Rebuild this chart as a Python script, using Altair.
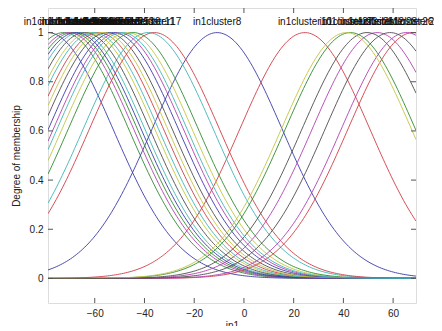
import altair as alt
import numpy as np
import pandas as pd

# Cluster centres (gaussmf), indexed by cluster number 1..28
cluster_ids = list(range(1, 29))
centers = [-78.8, -72.5, -58.5, -66.0, -50.5, -62.0, -55.0, -10.8, -69.0, 24.5,
           -38.5, 53.6, -47.0, -64.0, -52.5, -44.5, -36.0, -60.5, -70.5, -56.8,
           49.5, -67.5, 42.8, 68.0, -49.0, 65.3, 41.2, 58.8]
sigma = 26.2
x_min, x_max = -78.8, 69.2

x_ticks = [-60, -40, -20, 0, 20, 40, 60]
y_ticks = [0, 0.2, 0.4, 0.6, 0.8, 1.0]

matlab_colors = ["#3a3aa8", "#2f8a2f", "#d03c44", "#40b4b4", "#b040b0", "#c4c440", "#4c4c4c"]

names = [f"in1cluster{i}" for i in cluster_ids]
xs = np.linspace(x_min, x_max, 181)
rows = []
for cid, c, n in zip(cluster_ids, centers, names):
    for xv in xs:
        rows.append({"x": xv, "y": float(np.exp(-((xv - c) ** 2) / (2 * sigma ** 2))), "mf": n, "order": cid})
curves = pd.DataFrame(rows)
labels = pd.DataFrame({"x": centers, "y": [1.045] * len(centers), "mf": names})

W, H = 368, 295
xs_scale = alt.Scale(domain=[x_min, x_max], nice=False, zero=False)
ys_scale = alt.Scale(domain=[-0.1, 1.1], nice=False, zero=False)

color_scale = alt.Scale(domain=names, range=[matlab_colors[(i - 1) % 7] for i in cluster_ids])

lines = alt.Chart(curves).mark_line(strokeWidth=0.9, clip=True).encode(
    x=alt.X("x:Q", scale=xs_scale,
            axis=alt.Axis(values=x_ticks, title="in1", grid=False, domain=False, ticks=False,
                          labelPadding=5, labelFontSize=10, labelColor="#222",
                          titleFontSize=10, titleFontWeight="normal", titlePadding=2,
                          titleColor="#222", labelFont="Liberation Sans", titleFont="Liberation Sans")),
    y=alt.Y("y:Q", scale=ys_scale,
            axis=alt.Axis(values=y_ticks, title="Degree of membership", grid=False, domain=False,
                          ticks=False, format="~g", labelPadding=5, labelFontSize=10,
                          labelColor="#222", titleFontSize=10, titleFontWeight="normal",
                          titlePadding=8, titleColor="#222",
                          labelFont="Liberation Sans", titleFont="Liberation Sans")),
    color=alt.Color("mf:N", scale=color_scale, legend=None),
    detail="mf:N",
    order="x:Q",
)

text = alt.Chart(labels).mark_text(fontSize=10, font="Liberation Sans", color="#111",
                                   align="center", baseline="middle").encode(
    x=alt.X("x:Q", scale=xs_scale), y=alt.Y("y:Q", scale=ys_scale), text="mf:N")

xt = pd.DataFrame({"v": x_ticks})
yt = pd.DataFrame({"v": y_ticks})
tick_col = "#555"
xt_bot = alt.Chart(xt).mark_rule(color=tick_col).encode(
    x=alt.X("v:Q", scale=xs_scale), y=alt.value(H), y2=alt.value(H - 5))
xt_top = alt.Chart(xt).mark_rule(color=tick_col).encode(
    x=alt.X("v:Q", scale=xs_scale), y=alt.value(0), y2=alt.value(5))
yt_left = alt.Chart(yt).mark_rule(color=tick_col).encode(
    y=alt.Y("v:Q", scale=ys_scale), x=alt.value(0), x2=alt.value(5))
yt_right = alt.Chart(yt).mark_rule(color=tick_col).encode(
    y=alt.Y("v:Q", scale=ys_scale), x=alt.value(W - 5), x2=alt.value(W))

chart = alt.layer(lines, xt_bot, xt_top, yt_left, yt_right, text).properties(
    width=W, height=H,
    autosize=alt.AutoSizeParams(type="none"),
    padding={"left": 40, "top": 0, "right": 18, "bottom": 23},
).configure_view(stroke="#666", strokeWidth=1).configure(background="white")

chart.save("out.html", embed_options={"renderer": "svg", "actions": False})
